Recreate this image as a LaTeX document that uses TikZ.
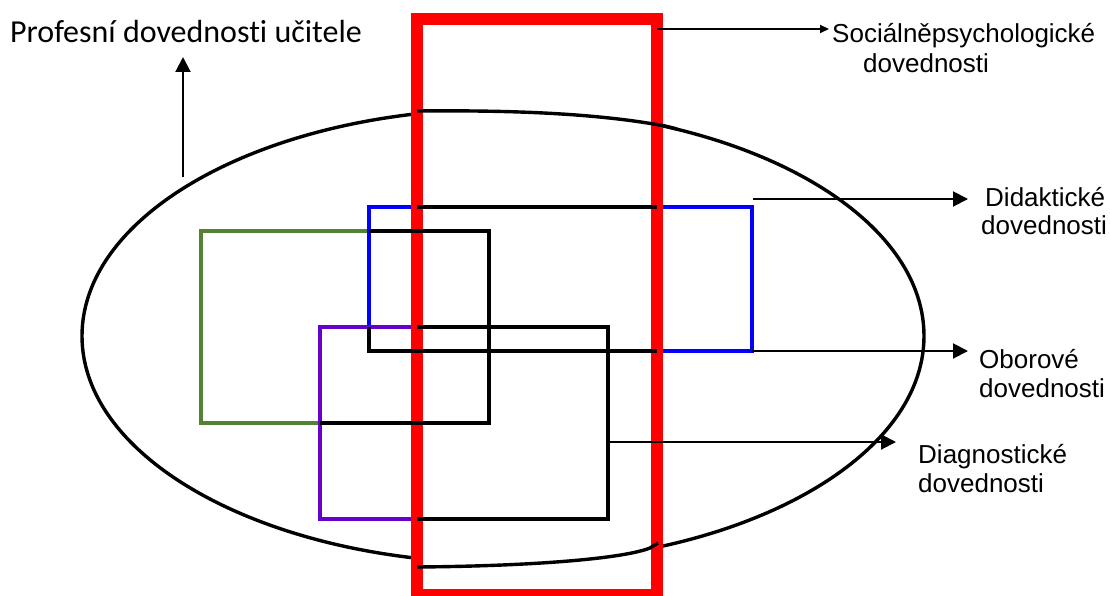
\documentclass[tikz,border=0pt]{standalone}
\usepackage{fontspec}
\setmainfont{Liberation Sans}
\newfontfamily\calibrifont[Ligatures=NoCommon]{Carlito}
\usetikzlibrary{arrows.meta}
\definecolor{rgreen}{HTML}{548235}
\definecolor{rpurple}{HTML}{6600CC}
\begin{document}
\begin{tikzpicture}[x=1pt,y=-1pt,
  outline/.style={line width=3.4pt},
  frame/.style={line width=12pt, draw=red},
  conn/.style={line width=2pt, -{Triangle[length=15pt,width=15pt]}},
  connsmall/.style={line width=2pt, -{Triangle[length=9pt,width=8pt]}},
  lbl/.style={inner sep=0pt, anchor=base west, font=\fontsize{26}{30}\selectfont},
  title/.style={inner sep=0pt, anchor=base west, font=\calibrifont\fontsize{32}{36}\selectfont},
]
\useasboundingbox (0,0) rectangle (1110,596);
\fill[white] (0,0) rectangle (1110,596);

% ellipse (outside the red frame)
\begin{scope}
  \clip (0,0) rectangle (417,596);
  \draw[outline] (503,336) ellipse [x radius=421, y radius=227];
\end{scope}
\begin{scope}
  \clip (657,0) rectangle (1110,596);
  \draw[outline] (503,336) ellipse [x radius=421, y radius=227];
\end{scope}

% coloured rectangles
\draw[outline, rgreen] (201,231) rectangle (489,423);
\draw[outline, blue] (369,207) rectangle (752,351);
\draw[outline, rpurple] (320,327) rectangle (608,519);

% red frame
\draw[frame] (417,19) rectangle (657,595);

% black overlays
\draw[outline] (417,111) .. controls (520,110) and (600,114) .. (665,126) -- (677,129);
\draw[outline] (417,567) .. controls (540,566) and (625,558) .. (650,548) -- (658,543);
\draw[outline] (417,207) -- (657,207);
\draw[outline] (369,327) -- (369,351) -- (657,351);
\draw[outline] (369,231) -- (489,231) -- (489,423) -- (320,423);
\draw[outline] (417,327) -- (608,327) -- (608,519) -- (417,519);

% labels
\node[title] (prof) at (10,42.7) {Profesní dovednosti učitele};
\node[lbl] (soc1) at (832,43) {Sociálněpsychologické};
\node[lbl] (soc2) at (863,73) {dovednosti};
\node[lbl] (did1) at (985,206) {Didaktické};
\node[lbl] (did2) at (981,234) {dovednosti};
\node[lbl] (obo1) at (979,368) {Oborové};
\node[lbl] (obo2) at (979,397) {dovednosti};
\node[lbl] (dia1) at (918,463) {Diagnostické};
\node[lbl] (dia2) at (918,492) {dovednosti};

% connectors
\coordinate (upS) at (183,177);
\coordinate (upE) at (183,57);
\coordinate (socS) at (657,29);
\coordinate (socE) at (829,29);
\coordinate (didS) at (753,199);
\coordinate (didE) at (968,199);
\coordinate (oboS) at (752,351);
\coordinate (oboE) at (968,351);
\coordinate (diaS) at (608,442);
\coordinate (diaE) at (896,442);
\draw[conn] (upS) -- (upE);
\draw[connsmall] (socS) -- (socE);
\draw[conn] (didS) -- (didE);
\draw[conn] (oboS) -- (oboE);
\draw[conn] (diaS) -- (diaE);
\end{tikzpicture}
\end{document}
